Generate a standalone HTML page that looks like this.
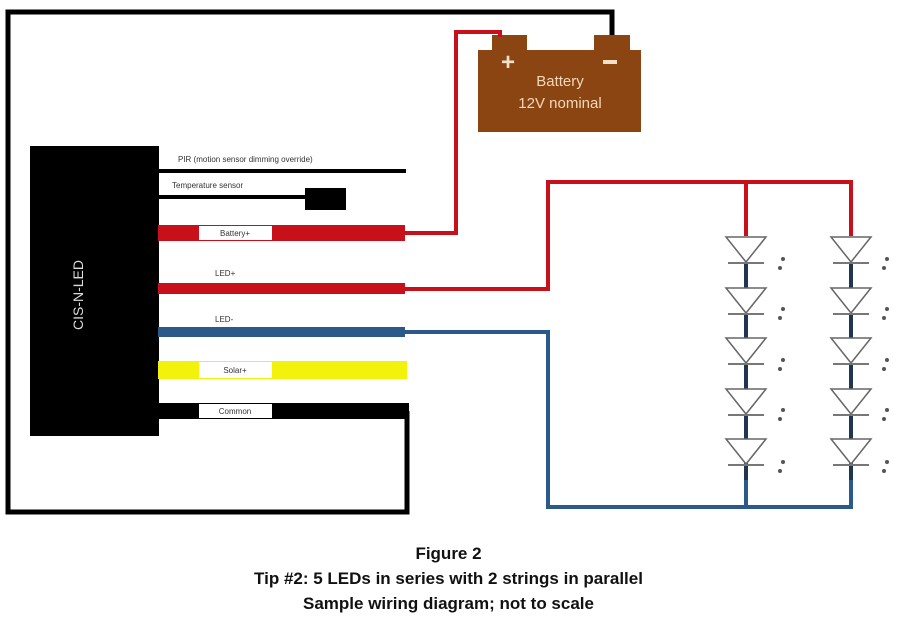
<!DOCTYPE html>
<html><head><style>
body{margin:0;background:#fff;width:897px;height:624px;overflow:hidden}
.cap{position:absolute;left:0;width:897px;text-align:center;font:bold 17px "Liberation Sans",sans-serif;color:#111}
</style></head><body>
<svg width="897" height="540" style="position:absolute;left:0;top:0" xmlns="http://www.w3.org/2000/svg">
<!-- outer black loop -->
<polyline points="612,36 612,12 8,12 8,512 407,512 407,411" fill="none" stroke="#000" stroke-width="5"/>
<!-- battery -->
<rect x="492" y="35" width="35" height="16" fill="#8a4513"/>
<rect x="594" y="35" width="36" height="16" fill="#8a4513"/>
<rect x="478" y="50" width="163" height="82" fill="#8a4513"/>
<text x="508" y="70" fill="#f3e0c8" font-family="Liberation Sans,sans-serif" font-size="24" font-weight="bold" text-anchor="middle">+</text>
<rect x="603" y="60" width="14" height="4" fill="#f3e0c8"/>
<text x="560" y="86" fill="#f3d9b8" font-family="Liberation Sans,sans-serif" font-size="15" text-anchor="middle">Battery</text>
<text x="560" y="108" fill="#f3d9b8" font-family="Liberation Sans,sans-serif" font-size="15" text-anchor="middle">12V nominal</text>
<!-- red battery wire -->
<polyline points="405,233 456,233 456,32 500,32 500,37" fill="none" stroke="#c8101a" stroke-width="4"/>
<!-- controller -->
<rect x="30" y="146" width="129" height="290" fill="#000"/>
<text transform="translate(83,295) rotate(-90)" fill="#ddd" font-family="Liberation Sans,sans-serif" font-size="14" text-anchor="middle">CIS-N-LED</text>
<!-- PIR -->
<line x1="158" y1="171" x2="406" y2="171" stroke="#000" stroke-width="4"/>
<text x="178" y="162" font-family="Liberation Sans,sans-serif" font-size="8" fill="#333">PIR (motion sensor dimming override)</text>
<!-- Temp -->
<line x1="158" y1="197" x2="306" y2="197" stroke="#000" stroke-width="4"/>
<rect x="305" y="188" width="41" height="22" fill="#000"/>
<text x="172" y="188" font-family="Liberation Sans,sans-serif" font-size="8" fill="#333">Temperature sensor</text>
<!-- Battery+ -->
<rect x="158" y="225" width="247" height="16" fill="#c8101a"/>
<rect x="199" y="226" width="73" height="14" fill="#fff"/>
<text x="235" y="236" font-family="Liberation Sans,sans-serif" font-size="8" fill="#333" text-anchor="middle">Battery+</text>
<!-- LED+ -->
<rect x="158" y="283" width="247" height="11" fill="#c8101a"/>
<polyline points="405,289 548,289 548,182 851,182 851,236" fill="none" stroke="#c8101a" stroke-width="4"/>
<line x1="746" y1="182" x2="746" y2="236" stroke="#c8101a" stroke-width="4"/>
<text x="215" y="276" font-family="Liberation Sans,sans-serif" font-size="8" fill="#333">LED+</text>
<!-- LED- -->
<rect x="158" y="327" width="247" height="10" fill="#2b5a8a"/>
<polyline points="405,332 548,332 548,507 851,507 851,460" fill="none" stroke="#2b5a8a" stroke-width="4"/>
<line x1="746" y1="507" x2="746" y2="460" stroke="#2b5a8a" stroke-width="4"/>
<text x="215" y="322" font-family="Liberation Sans,sans-serif" font-size="8" fill="#333">LED-</text>
<!-- Solar+ -->
<rect x="158" y="361" width="249" height="18" fill="#f2f20a"/>
<rect x="199" y="362" width="73" height="16" fill="#fff"/>
<text x="235" y="373" font-family="Liberation Sans,sans-serif" font-size="8" fill="#333" text-anchor="middle">Solar+</text>
<!-- Common -->
<rect x="158" y="403" width="251" height="16" fill="#000"/>
<rect x="199" y="404" width="73" height="14" fill="#fff"/>
<text x="235" y="414" font-family="Liberation Sans,sans-serif" font-size="8" fill="#333" text-anchor="middle">Common</text>
<!-- LEDs -->
<g id="s1"></g>
<g stroke="#1f3550" stroke-width="4">
<line x1="746" y1="262" x2="746" y2="288"/><line x1="746" y1="313" x2="746" y2="338"/><line x1="746" y1="363" x2="746" y2="389"/><line x1="746" y1="414" x2="746" y2="439"/><line x1="746" y1="464" x2="746" y2="480"/>
<line x1="851" y1="262" x2="851" y2="288"/><line x1="851" y1="313" x2="851" y2="338"/><line x1="851" y1="363" x2="851" y2="389"/><line x1="851" y1="414" x2="851" y2="439"/><line x1="851" y1="464" x2="851" y2="480"/>
</g>
<g fill="#fff" stroke="#666" stroke-width="1.5">
<polygon points="726,237 766,237 746,262"/><polygon points="726,288 766,288 746,313"/><polygon points="726,338 766,338 746,363"/><polygon points="726,389 766,389 746,414"/><polygon points="726,439 766,439 746,464"/>
<polygon points="831,237 871,237 851,262"/><polygon points="831,288 871,288 851,313"/><polygon points="831,338 871,338 851,363"/><polygon points="831,389 871,389 851,414"/><polygon points="831,439 871,439 851,464"/>
</g>
<g stroke="#777" stroke-width="2">
<line x1="728" y1="263" x2="764" y2="263"/><line x1="728" y1="314" x2="764" y2="314"/><line x1="728" y1="364" x2="764" y2="364"/><line x1="728" y1="415" x2="764" y2="415"/><line x1="728" y1="465" x2="764" y2="465"/>
<line x1="833" y1="263" x2="869" y2="263"/><line x1="833" y1="314" x2="869" y2="314"/><line x1="833" y1="364" x2="869" y2="364"/><line x1="833" y1="415" x2="869" y2="415"/><line x1="833" y1="465" x2="869" y2="465"/>
</g>
<g fill="#555">
<circle cx="783" cy="259" r="2"/><circle cx="780" cy="268" r="2"/><circle cx="783" cy="309" r="2"/><circle cx="780" cy="318" r="2"/><circle cx="783" cy="360" r="2"/><circle cx="780" cy="369" r="2"/><circle cx="783" cy="410" r="2"/><circle cx="780" cy="419" r="2"/><circle cx="783" cy="462" r="2"/><circle cx="780" cy="471" r="2"/>
<circle cx="887" cy="259" r="2"/><circle cx="884" cy="268" r="2"/><circle cx="887" cy="309" r="2"/><circle cx="884" cy="318" r="2"/><circle cx="887" cy="360" r="2"/><circle cx="884" cy="369" r="2"/><circle cx="887" cy="410" r="2"/><circle cx="884" cy="419" r="2"/><circle cx="887" cy="462" r="2"/><circle cx="884" cy="471" r="2"/>
</g>
</svg>
<div class="cap" style="top:544px">Figure 2</div>
<div class="cap" style="top:569px">Tip #2: 5 LEDs in series with 2 strings in parallel</div>
<div class="cap" style="top:594px">Sample wiring diagram; not to scale</div>
</body></html>
